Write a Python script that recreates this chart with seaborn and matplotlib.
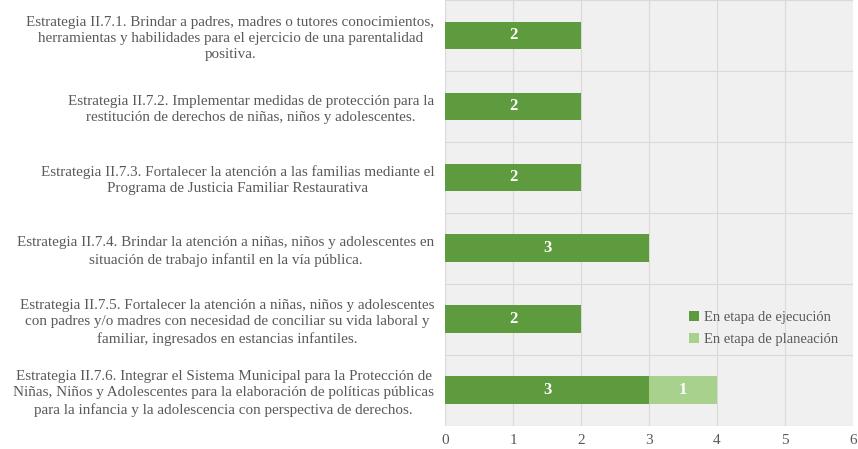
import matplotlib
matplotlib.use("Agg")
import matplotlib.pyplot as plt
import seaborn as sns
import pandas as pd

estrategias = [
    "Estrategia II.7.1. Brindar a padres, madres o tutores conocimientos,\nherramientas y habilidades para el ejercicio de una parentalidad\npositiva.",
    "Estrategia II.7.2. Implementar medidas de protección para la\nrestitución de derechos de niñas, niños y adolescentes.",
    "Estrategia II.7.3. Fortalecer la atención a las familias mediante el\nPrograma de Justicia Familiar Restaurativa",
    "Estrategia II.7.4. Brindar la atención a niñas, niños y adolescentes en\nsituación de trabajo infantil en la vía pública.",
    "Estrategia II.7.5. Fortalecer la atención a niñas, niños y adolescentes\ncon padres y/o madres con necesidad de conciliar su vida laboral y\nfamiliar, ingresados en estancias infantiles.",
    "Estrategia II.7.6. Integrar el Sistema Municipal para la Protección de\nNiñas, Niños y Adolescentes para la elaboración de políticas públicas\npara la infancia y la adolescencia con perspectiva de derechos.",
]
ejecucion = [2, 2, 2, 3, 2, 3]
planeacion = [0, 0, 0, 0, 0, 1]

df = pd.DataFrame({"estrategia": estrategias, "ejecucion": ejecucion, "planeacion": planeacion})
df["total"] = df["ejecucion"] + df["planeacion"]

c_ejec = "#5E9A3E"
c_plan = "#A9D18E"
gris = "#595959"

sns.set_style("white")
plt.rcParams["font.family"] = ["Liberation Serif", "DejaVu Serif"]

fig = plt.figure(figsize=(8.58, 4.49), dpi=100)
ax = fig.add_axes([0.519, 0.052, 0.475, 0.948])
ax.set_facecolor("#F0F0F0")

sns.barplot(data=df, y="estrategia", x="total", color=c_plan, orient="h", width=0.39,
            saturation=1, ax=ax, label="En etapa de planeación", zorder=3, linewidth=0)
sns.barplot(data=df, y="estrategia", x="ejecucion", color=c_ejec, orient="h", width=0.39,
            saturation=1, ax=ax, label="En etapa de ejecución", zorder=3, linewidth=0)

# etiquetas de valores
for i, (e, p) in enumerate(zip(ejecucion, planeacion)):
    if e > 0:
        ax.text(e / 2, i, str(e), ha="center", va="center", color="white",
                fontsize=12, fontweight="bold", zorder=4)
    if p > 0:
        ax.text(e + p / 2, i, str(p), ha="center", va="center", color="white",
                fontsize=12, fontweight="bold", zorder=4)

ax.set_xlim(0, 6)
ax.set_ylim(len(estrategias) - 0.5, -0.5)
ax.set_xticks(range(7))
ax.set_xlabel("")
ax.set_ylabel("")
ax.grid(axis="x", color="#D9D9D9", linewidth=0.8, zorder=0)
for k in range(len(estrategias) + 1):
    ax.axhline(k - 0.5, color="#D9D9D9", linewidth=0.8, zorder=1)
for s in ax.spines.values():
    s.set_visible(False)
ax.tick_params(axis="both", length=0, colors=gris, labelsize=11)
ax.tick_params(axis="x", pad=6)
ax.tick_params(axis="y", pad=8)
ax.set_yticks(range(len(estrategias)))
ax.set_yticklabels(estrategias, multialignment="center", color=gris, fontsize=10.9,
                   linespacing=1.32)

handles, labels = ax.get_legend_handles_labels()
ax.legend(handles[::-1], labels[::-1], loc="center left", bbox_to_anchor=(0.565, 0.228),
          frameon=False, fontsize=10.5, labelcolor=gris, handlelength=0.7, handleheight=0.7,
          handletextpad=0.35, labelspacing=0.6)

fig.savefig("out.png", dpi=100)
